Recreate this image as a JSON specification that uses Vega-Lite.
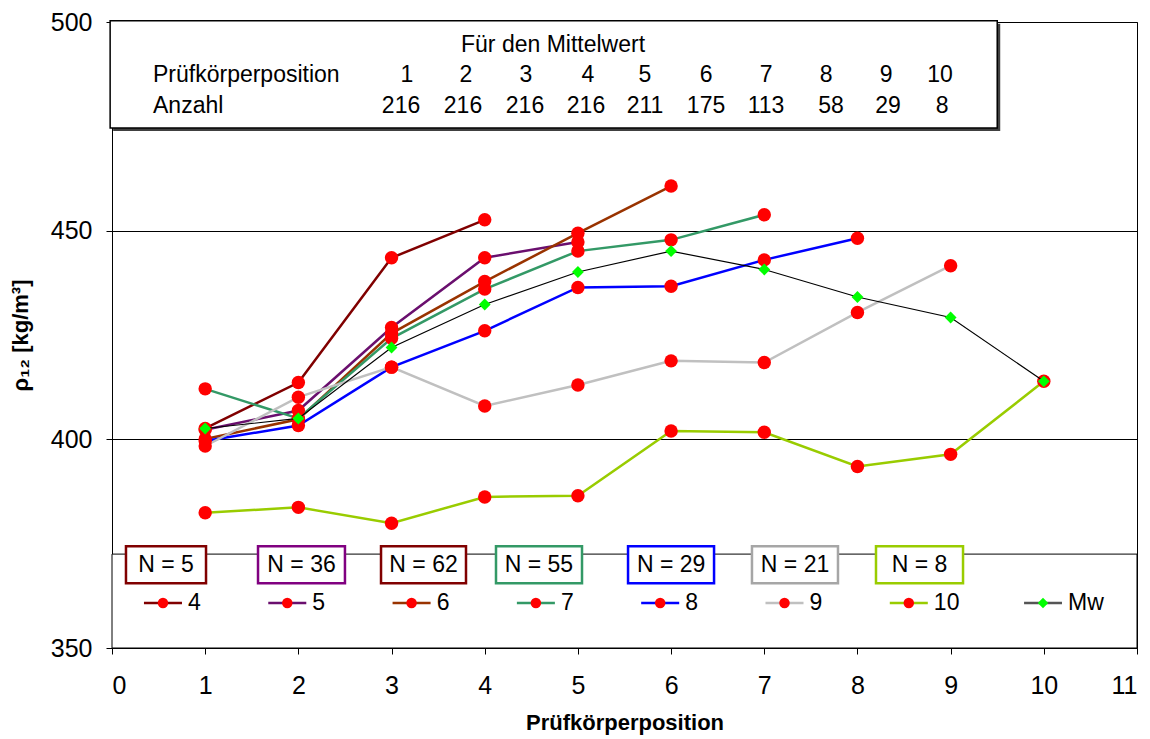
{
  "$schema": "https://vega.github.io/schema/vega-lite/v6.json",
  "width": 1025,
  "height": 626,
  "autosize": {"type": "none"},
  "padding": {"left": 112, "top": 22, "right": 13, "bottom": 91},
  "background": "white",
  "config": {
    "font": "Liberation Sans",
    "view": {"stroke": "#000000", "strokeWidth": 1},
    "axis": {
      "labelFont": "Liberation Sans",
      "labelFontSize": 25,
      "labelColor": "#000000",
      "titleFont": "Liberation Sans",
      "titleFontSize": 22,
      "titleFontWeight": "bold",
      "titleColor": "#000000",
      "domainColor": "#000000",
      "tickColor": "#000000",
      "tickSize": 6,
      "gridColor": "#000000",
      "gridOpacity": 1,
      "gridWidth": 1
    }
  },
  "datasets": {
    "series": [
      {"series": "4", "pos": 1, "rho": 402.6}, {"series": "4", "pos": 2, "rho": 413.6}, {"series": "4", "pos": 3, "rho": 443.5}, {"series": "4", "pos": 4, "rho": 452.6},
      {"series": "5", "pos": 1, "rho": 402.3}, {"series": "5", "pos": 2, "rho": 406.9}, {"series": "5", "pos": 3, "rho": 426.8}, {"series": "5", "pos": 4, "rho": 443.5}, {"series": "5", "pos": 5, "rho": 447.3},
      {"series": "6", "pos": 1, "rho": 400.1}, {"series": "6", "pos": 2, "rho": 404.8}, {"series": "6", "pos": 3, "rho": 425.4}, {"series": "6", "pos": 4, "rho": 437.8}, {"series": "6", "pos": 5, "rho": 449.4}, {"series": "6", "pos": 6, "rho": 460.7},
      {"series": "7", "pos": 1, "rho": 412.1}, {"series": "7", "pos": 2, "rho": 405.0}, {"series": "7", "pos": 3, "rho": 424.2}, {"series": "7", "pos": 4, "rho": 436.0}, {"series": "7", "pos": 5, "rho": 445.1}, {"series": "7", "pos": 6, "rho": 447.8}, {"series": "7", "pos": 7, "rho": 453.8},
      {"series": "8", "pos": 1, "rho": 399.6}, {"series": "8", "pos": 2, "rho": 403.3}, {"series": "8", "pos": 3, "rho": 417.3}, {"series": "8", "pos": 4, "rho": 426.0}, {"series": "8", "pos": 5, "rho": 436.4}, {"series": "8", "pos": 6, "rho": 436.7}, {"series": "8", "pos": 7, "rho": 443.0}, {"series": "8", "pos": 8, "rho": 448.2},
      {"series": "9", "pos": 1, "rho": 398.4}, {"series": "9", "pos": 2, "rho": 410.1}, {"series": "9", "pos": 3, "rho": 417.3}, {"series": "9", "pos": 4, "rho": 408.0}, {"series": "9", "pos": 5, "rho": 413.0}, {"series": "9", "pos": 6, "rho": 418.8}, {"series": "9", "pos": 7, "rho": 418.4}, {"series": "9", "pos": 8, "rho": 430.4}, {"series": "9", "pos": 9, "rho": 441.6},
      {"series": "10", "pos": 1, "rho": 382.4}, {"series": "10", "pos": 2, "rho": 383.7}, {"series": "10", "pos": 3, "rho": 379.9}, {"series": "10", "pos": 4, "rho": 386.2}, {"series": "10", "pos": 5, "rho": 386.5}, {"series": "10", "pos": 6, "rho": 402.0}, {"series": "10", "pos": 7, "rho": 401.7}, {"series": "10", "pos": 8, "rho": 393.5}, {"series": "10", "pos": 9, "rho": 396.4}, {"series": "10", "pos": 10, "rho": 413.9},
      {"series": "Mw", "pos": 1, "rho": 402.6}, {"series": "Mw", "pos": 2, "rho": 405.0}, {"series": "Mw", "pos": 3, "rho": 422.0}, {"series": "Mw", "pos": 4, "rho": 432.3}, {"series": "Mw", "pos": 5, "rho": 440.1}, {"series": "Mw", "pos": 6, "rho": 445.1}, {"series": "Mw", "pos": 7, "rho": 440.7}, {"series": "Mw", "pos": 8, "rho": 434.1}, {"series": "Mw", "pos": 9, "rho": 429.2}, {"series": "Mw", "pos": 10, "rho": 413.9}
    ],
    "infoBox": [{"x": -0.02, "x2": 9.5, "y": 500.3, "y2": 474.6}],
    "infoTextLeft": [
      {"t": "Prüfkörperposition", "x": 0.44, "y": 487.3},
      {"t": "Anzahl", "x": 0.44, "y": 479.9}
    ],
    "infoTextCenter": [
      {"t": "Für den Mittelwert", "x": 4.733, "y": 494.5},
      {"t": "1", "x": 3.166, "y": 487.3}, {"t": "2", "x": 3.799, "y": 487.3}, {"t": "3", "x": 4.443, "y": 487.3}, {"t": "4", "x": 5.108, "y": 487.3}, {"t": "5", "x": 5.720, "y": 487.3},
      {"t": "6", "x": 6.375, "y": 487.3}, {"t": "7", "x": 7.019, "y": 487.3}, {"t": "8", "x": 7.663, "y": 487.3}, {"t": "9", "x": 8.307, "y": 487.3}, {"t": "10", "x": 8.886, "y": 487.3},
      {"t": "216", "x": 3.102, "y": 479.9}, {"t": "216", "x": 3.767, "y": 479.9}, {"t": "216", "x": 4.432, "y": 479.9}, {"t": "216", "x": 5.087, "y": 479.9}, {"t": "211", "x": 5.720, "y": 479.9},
      {"t": "175", "x": 6.375, "y": 479.9}, {"t": "113", "x": 7.019, "y": 479.9}, {"t": "58", "x": 7.716, "y": 479.9}, {"t": "29", "x": 8.328, "y": 479.9}, {"t": "8", "x": 8.908, "y": 479.9}
    ],
    "legendBox": [{"x": 0, "x2": 11, "y": 350, "y2": 372.5}],
    "nBoxes": [
      {"label": "N = 5", "x": 0.150, "x2": 1.009, "xc": 0.580},
      {"label": "N = 36", "x": 1.567, "x2": 2.500, "xc": 2.034},
      {"label": "N = 62", "x": 2.887, "x2": 3.799, "xc": 3.343},
      {"label": "N = 55", "x": 4.121, "x2": 5.044, "xc": 4.582},
      {"label": "N = 29", "x": 5.538, "x2": 6.461, "xc": 6.000},
      {"label": "N = 21", "x": 6.868, "x2": 7.791, "xc": 7.330},
      {"label": "N = 8", "x": 8.199, "x2": 9.133, "xc": 8.666}
    ],
    "legendRows": [
      {"series": "4", "xs": 0.343, "xe": 0.751, "xd": 0.547, "xt": 0.816},
      {"series": "5", "xs": 1.677, "xe": 2.085, "xd": 1.881, "xt": 2.150},
      {"series": "6", "xs": 3.011, "xe": 3.419, "xd": 3.215, "xt": 3.484},
      {"series": "7", "xs": 4.345, "xe": 4.753, "xd": 4.549, "xt": 4.818},
      {"series": "8", "xs": 5.679, "xe": 6.087, "xd": 5.883, "xt": 6.152},
      {"series": "9", "xs": 7.013, "xe": 7.421, "xd": 7.217, "xt": 7.486},
      {"series": "10", "xs": 8.347, "xe": 8.755, "xd": 8.551, "xt": 8.820},
      {"series": "Mw", "xs": 9.788, "xe": 10.195, "xd": 9.991, "xt": 10.260}
    ]
  },
  "encoding": {
    "x": {
      "type": "quantitative",
      "scale": {"domain": [0, 11], "nice": false, "zero": false},
      "axis": {"values": [0, 1, 2, 3, 4, 5, 6, 7, 8, 9, 10, 11], "grid": false, "title": "Prüfkörperposition", "labelPadding": 19, "titlePadding": 14}
    },
    "y": {
      "type": "quantitative",
      "scale": {"domain": [350, 500], "nice": false, "zero": false},
      "axis": {"values": [350, 400, 450, 500], "grid": true, "title": "ρ₁₂ [kg/m³]", "labelPadding": 14, "titlePadding": 18}
    }
  },
  "layer": [
    {
      "data": {"name": "infoBox"},
      "mark": {"type": "rect", "fill": "#000000", "opacity": 0.75, "xOffset": 3, "x2Offset": 3, "yOffset": 3, "y2Offset": 3},
      "encoding": {"x": {"field": "x"}, "x2": {"field": "x2"}, "y": {"field": "y"}, "y2": {"field": "y2"}}
    },
    {
      "data": {"name": "infoBox"},
      "mark": {"type": "rect", "fill": "#ffffff", "stroke": "#000000", "strokeWidth": 1.5},
      "encoding": {"x": {"field": "x"}, "x2": {"field": "x2"}, "y": {"field": "y"}, "y2": {"field": "y2"}}
    },
    {
      "data": {"name": "infoTextLeft"},
      "mark": {"type": "text", "align": "left", "baseline": "middle", "fontSize": 23, "color": "#000000"},
      "encoding": {"x": {"field": "x"}, "y": {"field": "y"}, "text": {"field": "t"}}
    },
    {
      "data": {"name": "infoTextCenter"},
      "mark": {"type": "text", "align": "center", "baseline": "middle", "fontSize": 23, "color": "#000000"},
      "encoding": {"x": {"field": "x"}, "y": {"field": "y"}, "text": {"field": "t"}}
    },
    {
      "data": {"name": "series"},
      "transform": [{"filter": "datum.series !== 'Mw'"}],
      "mark": {"type": "line", "strokeWidth": 2.5},
      "encoding": {
        "x": {"field": "pos"},
        "y": {"field": "rho"},
        "detail": {"field": "series"},
        "color": {
          "field": "series", "type": "nominal", "legend": null,
          "scale": {
            "domain": ["4", "5", "6", "7", "8", "9", "10", "Mw"],
            "range": ["#800000", "#6a0f6e", "#993300", "#339966", "#0000ff", "#c0c0c0", "#99cc00", "#555555"]
          }
        }
      }
    },
    {
      "data": {"name": "series"},
      "transform": [{"filter": "datum.series !== 'Mw'"}],
      "mark": {"type": "point", "shape": "circle", "filled": true, "fill": "#ff0000", "opacity": 1, "size": 180},
      "encoding": {"x": {"field": "pos"}, "y": {"field": "rho"}}
    },
    {
      "data": {"name": "series"},
      "transform": [{"filter": "datum.series === 'Mw'"}],
      "mark": {"type": "line", "strokeWidth": 1.2, "color": "#000000"},
      "encoding": {"x": {"field": "pos"}, "y": {"field": "rho"}}
    },
    {
      "data": {"name": "series"},
      "transform": [{"filter": "datum.series === 'Mw'"}],
      "mark": {"type": "point", "shape": "diamond", "filled": true, "fill": "#00ff00", "opacity": 1, "size": 140},
      "encoding": {"x": {"field": "pos"}, "y": {"field": "rho"}}
    },
    {
      "data": {"name": "legendBox"},
      "mark": {"type": "rect", "fill": "#ffffff", "stroke": "#000000", "strokeWidth": 1},
      "encoding": {"x": {"field": "x"}, "x2": {"field": "x2"}, "y": {"field": "y"}, "y2": {"field": "y2"}}
    },
    {
      "data": {"name": "nBoxes"},
      "mark": {"type": "rect", "fill": "#ffffff", "strokeWidth": 2.5},
      "encoding": {
        "x": {"field": "x"}, "x2": {"field": "x2"},
        "y": {"datum": 374.4}, "y2": {"datum": 365.5},
        "stroke": {
          "field": "label", "type": "nominal", "legend": null,
          "scale": {
            "domain": ["N = 5", "N = 36", "N = 62", "N = 55", "N = 29", "N = 21", "N = 8"],
            "range": ["#800000", "#800080", "#800000", "#339966", "#0000ff", "#a6a6a6", "#99cc00"]
          }
        }
      }
    },
    {
      "data": {"name": "nBoxes"},
      "mark": {"type": "text", "align": "center", "baseline": "middle", "fontSize": 23, "color": "#000000"},
      "encoding": {"x": {"field": "xc"}, "y": {"datum": 370.0}, "text": {"field": "label"}}
    },
    {
      "data": {"name": "legendRows"},
      "mark": {"type": "rule", "strokeWidth": 2.5},
      "encoding": {
        "x": {"field": "xs"}, "x2": {"field": "xe"}, "y": {"datum": 360.8},
        "color": {"field": "series", "type": "nominal", "legend": null}
      }
    },
    {
      "data": {"name": "legendRows"},
      "transform": [{"filter": "datum.series !== 'Mw'"}],
      "mark": {"type": "point", "shape": "circle", "filled": true, "fill": "#ff0000", "opacity": 1, "size": 110},
      "encoding": {"x": {"field": "xd"}, "y": {"datum": 360.8}}
    },
    {
      "data": {"name": "legendRows"},
      "transform": [{"filter": "datum.series === 'Mw'"}],
      "mark": {"type": "point", "shape": "diamond", "filled": true, "fill": "#00ff00", "opacity": 1, "size": 110},
      "encoding": {"x": {"field": "xd"}, "y": {"datum": 360.8}}
    },
    {
      "data": {"name": "legendRows"},
      "mark": {"type": "text", "align": "left", "baseline": "middle", "fontSize": 23, "color": "#000000"},
      "encoding": {"x": {"field": "xt"}, "y": {"datum": 360.8}, "text": {"field": "series"}}
    }
  ]
}
